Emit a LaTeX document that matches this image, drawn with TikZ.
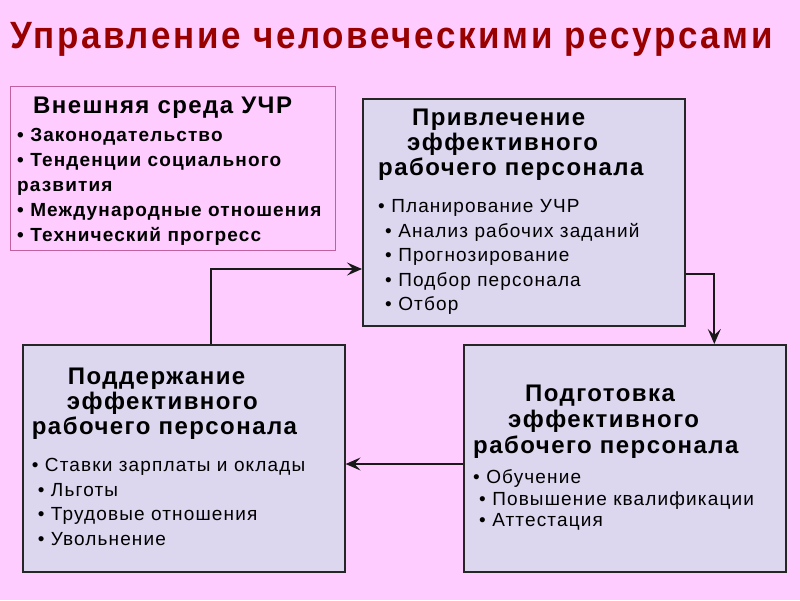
\documentclass[tikz,border=0pt]{standalone}
\usepackage{fontspec}
\setmainfont{Liberation Sans}
\newfontfamily\itemfont[LetterSpace=6]{Liberation Sans}
\newfontfamily\titlefont[FakeStretch=0.92,LetterSpace=7]{Liberation Sans}
\usetikzlibrary{arrows.meta}
\usetikzlibrary{positioning}
\definecolor{bgpink}{HTML}{FFCCFF}
\definecolor{boxfill}{HTML}{DCD6EE}
\definecolor{titlered}{HTML}{990000}
\definecolor{envline}{HTML}{C0609F}
\tikzset{stagebox/.style={draw=black!85, line width=1.6pt, fill=boxfill, minimum width=322pt, minimum height=227pt, anchor=north west, inner sep=0pt}}
\tikzset{envbox/.style={draw=envline, line width=0.8pt, fill=bgpink, anchor=north west, inner sep=0pt}}
\tikzset{stagehead/.style={font=\itemfont\bfseries\fontsize{24}{25}\selectfont, align=left, anchor=base west, inner sep=0pt}}
\tikzset{stagelist/.style={font=\itemfont\fontsize{19}{24.5}\selectfont, align=left, anchor=base west, inner sep=0pt}}
\tikzset{envhead/.style={font=\itemfont\bfseries\fontsize{24}{25}\selectfont, anchor=base west, inner sep=0pt}}
\tikzset{envlist/.style={font=\itemfont\bfseries\fontsize{19}{25}\selectfont, align=left, anchor=base west, inner sep=0pt}}
\tikzset{conn/.style={-{Stealth[length=15pt,width=13pt,inset=6pt]}, line width=1.8pt, draw=black!90}}

\begin{document}
\begin{tikzpicture}[x=1pt,y=-1pt]

\path[fill=bgpink, use as bounding box] (0,0) rectangle (800,600);

\node[font=\titlefont\bfseries\fontsize{38}{38}\selectfont, text=titlered, anchor=base west, inner sep=0pt]
  (title) at (10,48) {Управление человеческими ресурсами};

\node[envbox, minimum width=325pt, minimum height=164pt] (env) at (9.5,85.5) {};
\node[envhead] (envh) at (33,113) {Внешняя среда УЧР};
\node[envlist] (envl) at (17,241.7) {• Законодательство\\• Тенденции социального\\развития\\• Международные отношения\\• Технический прогресс};

\node[stagebox] (attract) at (362,98) {};
\node[stagehead] (attracth) at (378,175)
  {\hspace*{34pt}Привлечение\\\hspace*{29pt}эффективного\\рабочего персонала};
\node[stagelist] (attractl) at (378,310.5)
  {• Планирование УЧР\\\hspace*{7pt}• Анализ рабочих заданий\\\hspace*{7pt}• Прогнозирование\\\hspace*{7pt}• Подбор персонала\\\hspace*{7pt}• Отбор};

\node[stagebox] (keep) at (22,344) {};
\node[stagehead] (keeph) at (31.7,434)
  {\hspace*{36pt}Поддержание\\\hspace*{35pt}эффективного\\рабочего персонала};
\node[stagelist] (keepl) at (31.7,545)
  {• Ставки зарплаты и оклады\\\hspace*{6pt}• Льготы\\\hspace*{6pt}• Трудовые отношения\\\hspace*{6pt}• Увольнение};

\node[stagebox] (train) at (463,344) {};
\node[stagehead, font=\itemfont\bfseries\fontsize{24}{25.6}\selectfont] (trainh) at (473,453)
  {\hspace*{52pt}Подготовка\\\hspace*{35pt}эффективного\\рабочего персонала};
\node[stagelist, font=\itemfont\fontsize{19}{21.7}\selectfont] (trainl) at (473,526.7)
  {• Обучение\\\hspace*{6pt}• Повышение квалификации\\\hspace*{6pt}• Аттестация};

\coordinate (bend1) at (210.7,269);
\coordinate (bend2) at (714.3,274);
\coordinate (bend3) at (400,464);

\draw[conn] (keep.north -| bend1) |- (bend1 -| attract.west);
\draw[conn] (attract.east |- bend2) -| (train.north -| bend2);
\draw[conn] (train.west |- bend3) -- (keep.east |- bend3);

\end{tikzpicture}
\end{document}
